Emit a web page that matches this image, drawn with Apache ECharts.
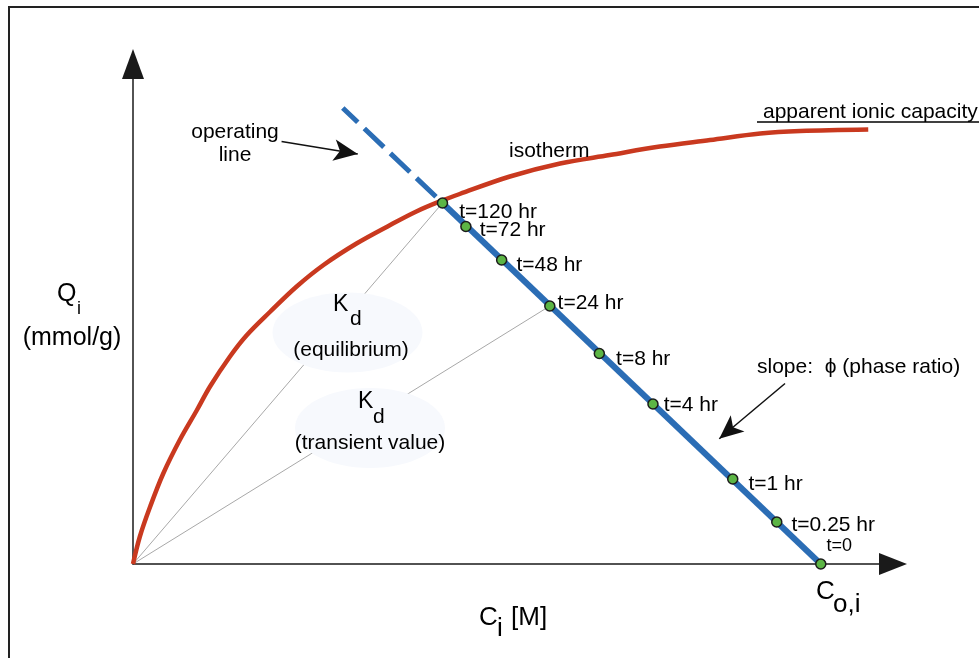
<!DOCTYPE html>
<html>
<head>
<meta charset="utf-8">
<script src="https://cdn.jsdelivr.net/npm/echarts@6/dist/echarts.min.js"></script>
<style>
  html, body { margin: 0; padding: 0; background: #fff; }
  #chart { width: 979px; height: 658px; }
</style>
</head>
<body>
<div id="chart"></div>
<script>
// ---- data (schematic units) ----
const tLabels  = ['t=120 hr', 't=72 hr', 't=48 hr', 't=24 hr', 't=8 hr', 't=4 hr', 't=1 hr', 't=0.25 hr', 't=0'];
const ciValues = [4.50, 4.84, 5.36, 6.06, 6.78, 7.56, 8.72, 9.36, 10.0];
const qiValues = [7.22, 6.75, 6.08, 5.16, 4.21, 3.20, 1.70, 0.84, 0.0];

const isoC = [0, 0.10, 0.25, 0.44, 0.68, 0.93, 1.12, 1.41, 1.65, 1.99, 2.38, 2.77, 3.25, 3.74, 4.12, 4.46, 4.75, 5.48, 6.21, 6.93, 7.66, 8.39, 9.12, 9.70, 10.69];
const isoQ = [0, 0.55, 1.15, 1.81, 2.48, 3.08, 3.55, 4.15, 4.57, 5.04, 5.55, 5.98, 6.41, 6.78, 7.05, 7.25, 7.40, 7.75, 8.01, 8.18, 8.35, 8.48, 8.61, 8.66, 8.69];

const opLineExtension = [3.05, 9.12];     // end of the dashed part of the operating line
const kdLinkLabels = ['t=120 hr', 't=24 hr']; // points joined to the origin (Kd chords)

// ---- layout / style helpers (not data) ----
const FONT = '"Liberation Sans", Arial, Helvetica, sans-serif';
const labelNudge = [[11, 9], [8, 4], [9, 5], [2, -3], [11, 6], [5, 1], [10, 5], [9, 3], [0, -18]];
const annotationArrows = [
  { from: [2.16, 8.45], tip: [3.44, 8.16] },
  { from: [9.48, 3.61], tip: [8.39, 2.35] }
];
const X_MAX = 11.05, Y_MAX = 10;
const GRID = { left: 133, right: 86, top: 64, bottom: 94 };
const pxPerX = (979 - GRID.left - GRID.right) / X_MAX;
const pxPerY = (658 - GRID.top - GRID.bottom) / Y_MAX;
const ARROW_SIZE = [16, 24];

function arrowLine(a) {
  const dx = (a.tip[0] - a.from[0]) * pxPerX;
  const dy = (a.tip[1] - a.from[1]) * pxPerY;
  const L = Math.sqrt(dx * dx + dy * dy);
  const f = (ARROW_SIZE[1] / 2) / L;
  const end = [a.tip[0] - f * (a.tip[0] - a.from[0]), a.tip[1] - f * (a.tip[1] - a.from[1])];
  return [{ coord: a.from }, { coord: end }];
}

const pts = ciValues.map((c, i) => [c, qiValues[i]]);
const isoData = isoC.map((c, i) => [c, isoQ[i]]);
const first = pts[pts.length - 1];   // t = 0
const last = pts[0];                 // t = 120 hr

function txt(x, y, s, size, align) {
  return {
    type: 'text', x: x, y: y, z: 10, silent: true,
    style: { text: s, fill: '#000', font: size + 'px ' + FONT, align: align || 'left', verticalAlign: 'middle' }
  };
}

const chart = echarts.init(document.getElementById('chart'), null, { renderer: 'canvas' });

const axisCommon = {
  type: 'value', min: 0,
  axisTick: { show: false }, axisLabel: { show: false }, splitLine: { show: false }
};

const series = [];
kdLinkLabels.forEach(function (lab) {
  const i = tLabels.indexOf(lab);
  series.push({
    type: 'line', z: 1, silent: true, symbol: 'none', animation: false,
    data: [[0, 0], pts[i]],
    lineStyle: { color: '#a8a8a8', width: 1 }
  });
});
series.push({
  type: 'line', z: 3, silent: true, symbol: 'none', animation: false,
  smooth: 0.35,
  data: isoData,
  lineStyle: { color: '#c9391f', width: 4.5 },
  markLine: {
    silent: true, animation: false,
    symbol: ['none', 'arrow'], symbolSize: ARROW_SIZE,
    lineStyle: { color: '#111', width: 1.5, type: 'solid' },
    label: { show: false },
    emphasis: { disabled: true },
    data: annotationArrows.map(arrowLine)
  }
});
series.push({
  type: 'line', z: 3, silent: true, symbol: 'none', animation: false,
  data: [first, last],
  lineStyle: { color: '#2b6db5', width: 6 }
});
series.push({
  type: 'line', z: 3, silent: true, symbol: 'none', animation: false,
  data: [last, opLineExtension],
  lineStyle: { color: '#2b6db5', width: 5, type: [27, 9], dashOffset: 27 }
});
series.push({
  type: 'scatter', z: 4, silent: true, animation: false,
  symbol: 'circle', symbolSize: 10,
  itemStyle: { color: '#5cb545', borderColor: '#1b1b1b', borderWidth: 1.5, opacity: 1 },
  label: {
    show: true, position: 'right', distance: 0, color: '#000', fontSize: 21, fontFamily: FONT,
    textBorderWidth: 0, opacity: 1,
    formatter: function (p) { return tLabels[p.dataIndex]; }
  },
  data: pts.map(function (p, i) {
    const item = { value: p, label: { offset: labelNudge[i] } };
    if (tLabels[i] === 't=0') item.label.fontSize = 18;
    return item;
  })
});

chart.setOption({
  animation: false,
  backgroundColor: '#ffffff',
  grid: GRID,
  xAxis: Object.assign({}, axisCommon, {
    max: X_MAX,
    axisLine: { show: true, onZero: true, symbol: ['none', 'triangle'], symbolSize: [22, 28],
      lineStyle: { color: '#1a1a1a', width: 1.5 } }
  }),
  yAxis: Object.assign({}, axisCommon, {
    max: Y_MAX,
    axisLine: { show: true, onZero: true, symbol: ['none', 'triangle'], symbolSize: [22, 30],
      lineStyle: { color: '#1a1a1a', width: 1.5 } }
  }),
  graphic: [
    { type: 'rect', z: 0, silent: true, shape: { x: 9, y: 7, width: 1200, height: 1000 },
      style: { fill: 'none', stroke: '#222', lineWidth: 2 } },
    { type: 'ellipse', z: 2, silent: true, shape: { cx: 347.5, cy: 332.5, rx: 75, ry: 40 },
      style: { fill: '#f7f9fd' } },
    { type: 'ellipse', z: 2, silent: true, shape: { cx: 370, cy: 428, rx: 75, ry: 40 },
      style: { fill: '#f7f9fd' } },
    { type: 'line', z: 10, silent: true, shape: { x1: 757, y1: 122, x2: 990, y2: 122 },
      style: { stroke: '#000', lineWidth: 1.5 } },
    txt(235, 132, 'operating', 21, 'center'),
    txt(235, 155, 'line', 21, 'center'),
    txt(509, 151, 'isotherm', 21),
    txt(763, 112, 'apparent ionic capacity', 21),
    txt(57, 294, 'Q', 25),
    txt(77, 309.5, 'i', 18),
    txt(72, 338, '(mmol/g)', 25, 'center'),
    txt(333, 305, 'K', 23),
    txt(350, 319, 'd', 21),
    txt(351, 350, '(equilibrium)', 21, 'center'),
    txt(358, 401.5, 'K', 23),
    txt(373, 417.5, 'd', 21),
    txt(370, 443, '(transient value)', 21, 'center'),
    txt(757, 367, 'slope:  \u03D5 (phase ratio)', 21),
    txt(479, 618, 'C', 26),
    txt(497, 629, 'i', 26),
    txt(511, 618, '[M]', 26),
    txt(816, 592, 'C', 26),
    txt(833, 604.5, 'o,i', 26)
  ],
  series: series
});
</script>
</body>
</html>
